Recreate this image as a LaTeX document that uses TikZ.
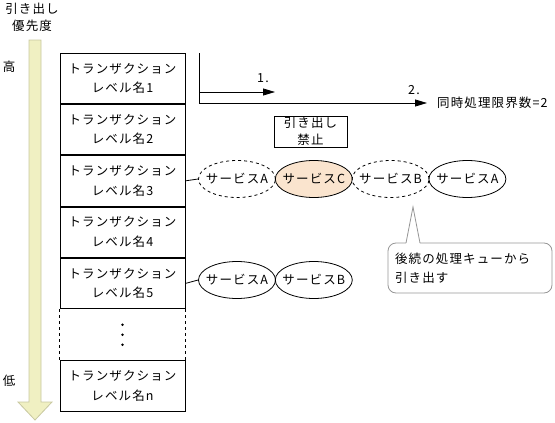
\documentclass[tikz,border=0pt]{standalone}
\usepackage{fontspec}
\setmainfont{Noto Sans CJK JP}[LetterSpace=9]
\usetikzlibrary{positioning,shapes.geometric,arrows.meta}
\definecolor{prioyellow}{RGB}{240,240,194}
\definecolor{prioedge}{RGB}{200,200,160}
\definecolor{peach}{RGB}{250,228,206}
\definecolor{notegray}{RGB}{150,150,150}
\begin{document}
\begin{tikzpicture}[x=1pt, y=-1pt,
every node/.style={font=\fontsize{12.5}{19.5}\selectfont},
lvlbox/.style={rectangle, draw=black, line width=0.8pt, minimum width=125pt, minimum height=50.5pt, inner sep=0pt, align=center},
svc/.style={ellipse, draw=black, line width=0.8pt, minimum width=77pt, minimum height=37pt, inner xsep=-12pt, inner ysep=0pt},
flow/.style={-{Triangle[length=12pt,width=7pt]}, line width=0.8pt},
]
\useasboundingbox (0,0) rectangle (555,423);
%Priority arrow
\node[align=center, font=\fontsize{12.5}{17}\selectfont] (title) at (32,17) {引き出し\\優先度};
\draw[fill=prioyellow, draw=prioedge, line width=0.8pt] (29,40) -- (41,40) -- (41,402) -- (52,402) -- (35,420) -- (18,402) -- (29,402) -- cycle;
\node (high) at (9,67) {高};
\node (low) at (9,381) {低};
%Levels
\node[lvlbox] (lv1) at (122.5,78.25) {トランザクション\\レベル名1};
\node[lvlbox, below=0pt of lv1] (lv2) {トランザクション\\レベル名2};
\node[lvlbox, below=0pt of lv2] (lv3) {トランザクション\\レベル名3};
\node[lvlbox, below=0pt of lv3] (lv4) {トランザクション\\レベル名4};
\node[lvlbox, below=0pt of lv4] (lv5) {トランザクション\\レベル名5};
\node[lvlbox, draw=none, below=0pt of lv5] (dots) {};
\node[lvlbox, below=0pt of dots] (lvn) {トランザクション\\レベル名n};
\draw[dashed, line width=0.8pt] (dots.north west) -- (dots.south west);
\draw[dashed, line width=0.8pt] (dots.north east) -- (dots.south east);
\foreach \dy in {-10,0,10}
  \fill ([yshift=\dy pt]dots.center) circle (1.4pt);
%Concurrency
\coordinate (qtop) at (199,53);
\coordinate (q1) at (199,92);
\coordinate (q2) at (199,103);
\coordinate (q1end) at (275,92);
\coordinate (q2end) at (427,103);
\draw[line width=0.8pt] (qtop) -- (q2);
\draw[flow] (q1) -- (q1end);
\draw[flow] (q2) -- (q2end);
\node (n1) at (263,78) {1.};
\node (n2) at (414,90) {2.};
\node[anchor=west, inner sep=0pt] (limit) at (437,103) {同時処理限界数=2};
\node[rectangle, draw=black, line width=0.8pt, minimum width=73pt, minimum height=31pt, inner sep=0pt, align=center, font=\fontsize{12.5}{17}\selectfont] (stop) at (310.5,131.5) {引き出し\\禁止};
%Services
\node[svc, dashed] (s3a) at (237,179) {サービスA};
\node[svc, fill=peach, right=-1pt of s3a] (s3c) {サービスC};
\node[svc, dashed, right=-1pt of s3c] (s3b) {サービスB};
\node[svc, right=-1pt of s3b] (s3d) {サービスA};
\node[svc] (s5a) at (237,280) {サービスA};
\node[svc, right=-1pt of s5a] (s5b) {サービスB};
\draw[line width=0.8pt] (lv3.east) -- (s3a.west);
\draw[line width=0.8pt] (lv5.east) -- (s5a.west);
%Note
\node[rectangle, rounded corners=8pt, draw=notegray, line width=0.8pt, minimum width=164pt, minimum height=50pt, text width=150pt, align=left, inner sep=6pt] (note) at (470,268) {後続の処理キューから\\引き出す};
\coordinate (tip) at (413,207);
\fill[white] (406,244) -- (tip) -- (420,244) -- cycle;
\draw[notegray, line width=0.8pt] (406,243) -- (tip) -- (420,243);
\end{tikzpicture}
\end{document}
